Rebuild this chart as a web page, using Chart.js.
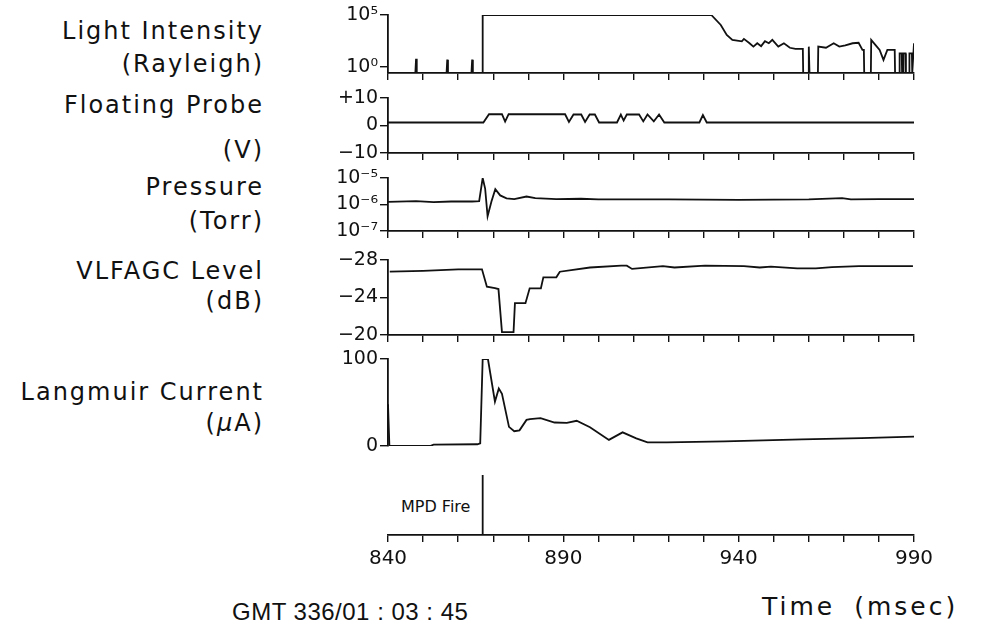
<!DOCTYPE html>
<html>
<head>
<meta charset="utf-8">
<script src="https://cdn.jsdelivr.net/npm/chart.js@4.4.1/dist/chart.umd.min.js"></script>
<style>
  body { margin: 0; background: #fff; width: 983px; height: 633px; overflow: hidden; position: relative; }
  canvas { position: absolute; left: 0; }
  .lbl { position: absolute; right: 719px; font: 24px "DejaVu Sans", sans-serif; color: #111; white-space: nowrap; line-height: 26px; letter-spacing: 2px; }
  .note { position: absolute; font: 16px "DejaVu Sans", sans-serif; color: #111; white-space: nowrap; line-height: 18px; }
  .foot { position: absolute; font: 24px "Liberation Sans", sans-serif; color: #111; white-space: nowrap; line-height: 28px; }
</style>
</head>
<body>
<div class="lbl" style="top:18px">Light Intensity</div>
<div class="lbl" style="top:51px">(Rayleigh)</div>
<div class="lbl" style="top:92px">Floating Probe</div>
<div class="lbl" style="top:137px">(V)</div>
<div class="lbl" style="top:174px">Pressure</div>
<div class="lbl" style="top:208px">(Torr)</div>
<div class="lbl" style="top:258px">VLFAGC Level</div>
<div class="lbl" style="top:288px">(dB)</div>
<div class="lbl" style="top:379px">Langmuir Current</div>
<div class="lbl" style="top:410px">(<i>μ</i>A)</div>
<div class="note" style="left:401px;top:498px">MPD Fire</div>
<div class="foot" style="left:232px;top:598px;letter-spacing:0.5px">GMT 336/01 : 03 : 45</div>
<div class="foot" style="left:762px;top:592px;font:25px 'DejaVu Sans',sans-serif;letter-spacing:3px;word-spacing:8px">Time (msec)</div>

<canvas id="p1" width="983" height="90"></canvas>
<canvas id="p2" width="983" height="90"></canvas>
<canvas id="p3" width="983" height="90"></canvas>
<canvas id="p4" width="983" height="110"></canvas>
<canvas id="p5" width="983" height="120"></canvas>
<canvas id="p6" width="983" height="110"></canvas>

<script>
const INK = '#111';
const timeMin = 840, timeMax = 990, timeStep = 10;
const timeLabels = [840, 890, 940, 990];
const mpdFireTime = 867;

// Light intensity (Rayleigh), log scale
const lightTicks = [1, 1e5];
const lightTickLabels = ['10⁰', '10⁵'];
const lightTime = [840, 847.8, 848, 848.2, 856.7, 856.9, 857.1, 863.8, 864, 864.2, 866.9, 867,
  932.2, 934.9, 936.6, 938.2, 940.9, 941.5, 943.1, 944.2, 945.3, 946.4, 947.5, 948.6, 949.6,
  951.3, 952.9, 954.6, 956.2, 958.3, 958.4, 959.8, 960, 960.2, 962.6, 962.7, 964.9, 967.1,
  968.7, 970.4, 972.5, 974.2, 975.3, 975.7, 975.8, 977.7, 977.8, 979.1, 980.2, 981.3, 982.4,
  984.5, 984.6, 985.8, 985.9, 986.5, 986.6, 986.9, 987, 987.6, 987.7, 988.6, 988.7, 989.4,
  989.5, 990];
const lightValue = [0.26, 0.26, 6, 0.26, 0.26, 5, 0.26, 0.26, 5, 0.26, 0.26, 1e5,
  1e5, 1.1e4, 1200, 400, 290, 500, 190, 90, 190, 100, 300, 190, 400,
  90, 190, 70, 55, 55, 0.26, 0.26, 90, 0.26, 0.26, 90, 70, 190,
  90, 120, 190, 210, 43, 43, 0.26, 0.26, 400, 120, 43, 4.7, 43,
  43, 0.26, 0.26, 20, 20, 0.26, 0.26, 20, 20, 0.26, 0.26, 20, 20,
  0.26, 190];

// Floating probe (V)
const probeTicks = [10, 0, -10];
const probeTickLabels = ['+10', '0', '−10'];
const probeTime = [840, 867.2, 868.8, 872.5, 873.4, 874.4, 890.5, 891.6, 892.9, 895.1, 896.2, 897.5,
  899, 900.2, 905.3, 906.4, 907.2, 908.1, 911.6, 912.8, 914, 915.8, 917.3, 918.8, 928.8, 929.8,
  930.9, 990];
const probeValue = [1.1, 1.1, 4.1, 4.1, 1.4, 4.1, 4.1, 1.3, 4, 4, 1.3, 4,
  4, 1.1, 1.1, 4, 1.8, 4, 4, 1.5, 4, 1.5, 4, 1.1, 1.1, 3.8,
  1.1, 1.1];

// Pressure (Torr), log scale
const pressTicks = [1e-5, 1e-6, 1e-7];
const pressTickLabels = ['10⁻⁵', '10⁻⁶', '10⁻⁷'];
const pressTime = [840, 848, 853, 858, 864, 866, 867, 867.7, 868.4, 869.5, 870.6, 872, 873.8, 876,
  879.5, 882, 888, 895, 900, 920, 940, 960, 969.5, 972, 980, 990];
const pressValue = [1.25e-6, 1.33e-6, 1.22e-6, 1.3e-6, 1.3e-6, 1.35e-6, 1e-5, 4e-6, 3.6e-7, 1.3e-6,
  3.8e-6, 2.2e-6, 1.7e-6, 1.6e-6, 2e-6, 1.75e-6, 1.6e-6, 1.65e-6, 1.55e-6, 1.55e-6, 1.5e-6,
  1.55e-6, 1.75e-6, 1.55e-6, 1.6e-6, 1.6e-6];

// VLFAGC level (dB), reversed axis
const agcTicks = [-28, -24, -20];
const agcTickLabels = ['−28', '−24', '−20'];
const agcTime = [840.5, 850, 860, 866.8, 868.2, 870.5, 871.5, 872.5, 875.8, 876.2, 879.2, 880.4,
  883.6, 884.3, 888, 889, 897.6, 906.5, 908.1, 909.6, 918.4, 921.7, 930.4, 941.5, 946, 949.2,
  956.7, 962, 966.6, 974.3, 989.7];
const agcValue = [-26.75, -26.85, -27, -27, -25.15, -25, -24.9, -20.3, -20.3, -23.4, -23.4, -24.98,
  -24.98, -26.15, -26.15, -26.75, -27.2, -27.4, -27.4, -27.05, -27.35, -27.2, -27.4, -27.35,
  -27.2, -27.3, -27.1, -27.1, -27.25, -27.35, -27.35];

// Langmuir current (uA)
const langTicks = [0, 100];
const langTickLabels = ['0', '100'];
const langTime = [840, 840.4, 852, 853, 865.5, 866.3, 867, 868.5, 870.5, 871.6, 872.5, 874.5, 876,
  877.5, 879.5, 880.5, 883.5, 887.5, 891, 893.8, 897.6, 903, 906.9, 910.8, 914, 919.5, 936, 958,
  975, 990];
const langValue = [48, 0, 0, 1.5, 2, 3, 100, 100, 51, 66, 60, 22, 17,
  18, 30, 31, 32, 27, 26.5, 29, 21.5, 7, 15.7, 8.8, 4.2, 4.2, 5.4, 7.7,
  9, 10.7];

const pts = (xs, ys) => xs.map((x, i) => ({ x, y: ys[i] }));

const xAxis = (labels, height) => ({
  type: 'linear', min: timeMin, max: timeMax,
  grid: { drawOnChartArea: false, drawTicks: true, tickLength: 7, color: INK, lineWidth: 1.4 },
  border: { display: true, color: INK, width: 1.8 },
  ticks: {
    display: labels, stepSize: timeStep, autoSkip: false, maxRotation: 0, color: INK, padding: 5,
    font: { family: 'DejaVu Sans', size: 20 },
    callback: v => timeLabels.includes(v) ? String(v) : ''
  },
  afterFit: s => { s.height = height; }
});

const yAxis = (type, min, max, tickVals, tickLabels, reverse) => ({
  type, min, max, reverse: !!reverse,
  afterBuildTicks: s => { s.ticks = tickVals.map(v => ({ value: v })); },
  afterFit: s => { s.width = 388; },
  grid: { drawOnChartArea: false, drawTicks: true, tickLength: 8, color: INK, lineWidth: 1.4 },
  border: { display: true, color: INK, width: 1.8 },
  ticks: {
    color: INK, padding: 2, autoSkip: false,
    font: { family: 'DejaVu Sans', size: 19 },
    callback: v => { const i = tickVals.indexOf(v); return i >= 0 ? tickLabels[i] : ''; }
  }
});

const PAD_TOP = 16;
// axisH: height kept for the time axis under the panel, padBottom: empty space below it
function makePanel(id, top, bottom, data, scales, axisH, padBottom, padLeft) {
  const cv = document.getElementById(id);
  cv.style.top = (top - PAD_TOP) + 'px';
  cv.height = (bottom - top) + PAD_TOP + axisH + padBottom;
  cv.style.height = cv.height + 'px';
  return new Chart(cv, {
    type: 'line',
    data: { datasets: [{ data, borderColor: INK, borderWidth: 1.8, pointRadius: 0, tension: 0, fill: false }] },
    options: {
      responsive: false, animation: false, devicePixelRatio: 1,
      layout: { padding: { top: PAD_TOP, right: 983 - 914, left: padLeft || 0, bottom: padBottom } },
      plugins: { legend: { display: false }, tooltip: { enabled: false } },
      scales
    }
  });
}

makePanel('p1', 15, 73, pts(lightTime, lightValue),
  { x: xAxis(false, 8), y: yAxis('logarithmic', 0.26, 1e5, lightTicks, lightTickLabels) }, 8, 8);
makePanel('p2', 98, 153, pts(probeTime, probeValue),
  { x: xAxis(false, 8), y: yAxis('linear', -10, 10, probeTicks, probeTickLabels) }, 8, 8);
makePanel('p3', 178, 231, pts(pressTime, pressValue),
  { x: xAxis(false, 8), y: yAxis('logarithmic', 1e-7, 1e-5, pressTicks, pressTickLabels) }, 8, 8);
makePanel('p4', 260, 335, pts(agcTime, agcValue),
  { x: xAxis(false, 8), y: yAxis('linear', -28, -20, agcTicks, agcTickLabels, true) }, 8, 8);
makePanel('p5', 359, 446, pts(langTime, langValue),
  { x: { type: 'linear', min: timeMin, max: timeMax, display: false },
    y: yAxis('linear', 0, 100, langTicks, langTickLabels) }, 0, 16);

// MPD fire marker and the labelled time axis
makePanel('p6', 475, 535, pts([mpdFireTime, mpdFireTime], [0, 1]),
  { x: xAxis(true, 40), y: { type: 'linear', min: 0, max: 1, display: false } }, 40, 4, 388);
</script>
</body>
</html>
